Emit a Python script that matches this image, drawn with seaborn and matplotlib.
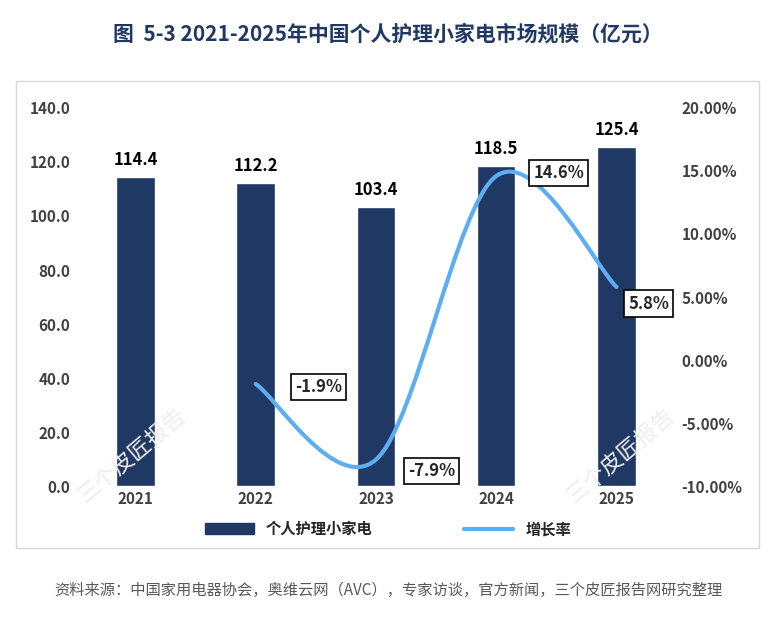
import matplotlib
matplotlib.use("Agg")
import matplotlib.pyplot as plt
import seaborn as sns
import pandas as pd
import numpy as np
from matplotlib.path import Path
from matplotlib.patches import PathPatch, Rectangle

years = ["2021", "2022", "2023", "2024", "2025"]
sales = [114.4, 112.2, 103.4, 118.5, 125.4]
growth_years = ["2022", "2023", "2024", "2025"]
growth = [-1.9, -7.9, 14.6, 5.8]

sns.set_theme(style="white")
plt.rcParams['font.family'] = ['Noto Sans CJK SC', 'DejaVu Sans']

fig = plt.figure(figsize=(7.76, 6.24), dpi=100)
ax = fig.add_axes([0.097, 0.221, 0.775, 0.606])
navy = "#1F3864"
blue = "#5DADF2"

df = pd.DataFrame({"year": years, "v": sales})
sns.barplot(data=df, x="year", y="v", color=navy, width=0.32, ax=ax, saturation=1)
ax.set_ylim(0, 140)
ax.set_yticks(np.arange(0, 141, 20))
ax.set_yticklabels([f"{v:.1f}" for v in np.arange(0, 141, 20)])
ax.set_xlim(-0.5, 4.5)
ax.set_xlabel(""); ax.set_ylabel("")
for i, v in enumerate(sales):
    ax.text(i, v + 3, f"{v:.1f}", ha="center", va="bottom", fontsize=12, fontweight="bold", color="black")
for s in ax.spines.values():
    s.set_visible(False)
ax.tick_params(axis="both", labelsize=11, colors="#404040", length=0)
for t in ax.get_xticklabels() + ax.get_yticklabels():
    t.set_fontweight("bold")

ax2 = ax.twinx()
ax2.set_ylim(-10, 20)
ax2.set_yticks(np.arange(-10, 21, 5))
ax2.set_yticklabels([f"{v:.2f}%" for v in np.arange(-10, 21, 5)])
for s in ax2.spines.values():
    s.set_visible(False)
ax2.tick_params(axis="y", labelsize=11, colors="#404040", length=0)
for t in ax2.get_yticklabels():
    t.set_fontweight("bold")
ax2.grid(False); ax.grid(False)

xs = [years.index(y) for y in growth_years]
pts = np.array(list(zip(xs, growth)), dtype=float)
ext = np.vstack([pts[0], pts, pts[-1]])
verts = [tuple(pts[0])]; codes = [Path.MOVETO]
for i in range(1, len(ext) - 2):
    p0, p1, p2, p3 = ext[i-1], ext[i], ext[i+1], ext[i+2]
    c1 = p1 + (p2 - p0) / 6
    c2 = p2 - (p3 - p1) / 6
    verts += [tuple(c1), tuple(c2), tuple(p2)]
    codes += [Path.CURVE4] * 3
ax2.add_patch(PathPatch(Path(verts, codes), fill=False, edgecolor=blue, lw=3, capstyle="round"))

offs = [(45, -2), (40, -8), (45, 2), (23, -12)]
for x, g, o in zip(xs, growth, offs):
    ax2.annotate(f"{g:.1f}%", (x, g), xytext=o, textcoords="offset points", ha="center", va="center",
                 fontsize=12, fontweight="bold",
                 bbox=dict(boxstyle="square,pad=0.25", fc="white", ec="black", lw=1.2))

from matplotlib.lines import Line2D
handles = [Rectangle((0, 0), 1, 1, color=navy), Line2D([0], [0], color=blue, lw=3)]
fig.legend(handles, ["个人护理小家电", "增长率"], loc="center", bbox_to_anchor=(0.5, 0.152), ncol=2,
           frameon=False, handlelength=3.2, columnspacing=6,
           prop={"weight": "bold", "size": 11, "family": ['Noto Sans CJK SC', 'DejaVu Sans']})

fig.patches.append(Rectangle((0.02, 0.122), 0.958, 0.748, transform=fig.transFigure,
                             fill=False, ec="#D9D9D9", lw=1))

fig.text(0.5, 0.945, "图  5-3 2021-2025年中国个人护理小家电市场规模（亿元）", ha="center", va="center",
         fontsize=15, fontweight="bold", color=navy)
fig.text(0.5, 0.053, "资料来源：中国家用电器协会，奥维云网（AVC），专家访谈，官方新闻，三个皮匠报告网研究整理",
         ha="center", va="center", fontsize=11, color="#595959")
fig.text(0.17, 0.27, "三个皮匠报告", rotation=40, fontsize=16, color="#EEEEEE", ha="center", va="center")
fig.text(0.8, 0.27, "三个皮匠报告", rotation=40, fontsize=16, color="#EEEEEE", ha="center", va="center")

fig.savefig("out.png", dpi=100, facecolor="white")
